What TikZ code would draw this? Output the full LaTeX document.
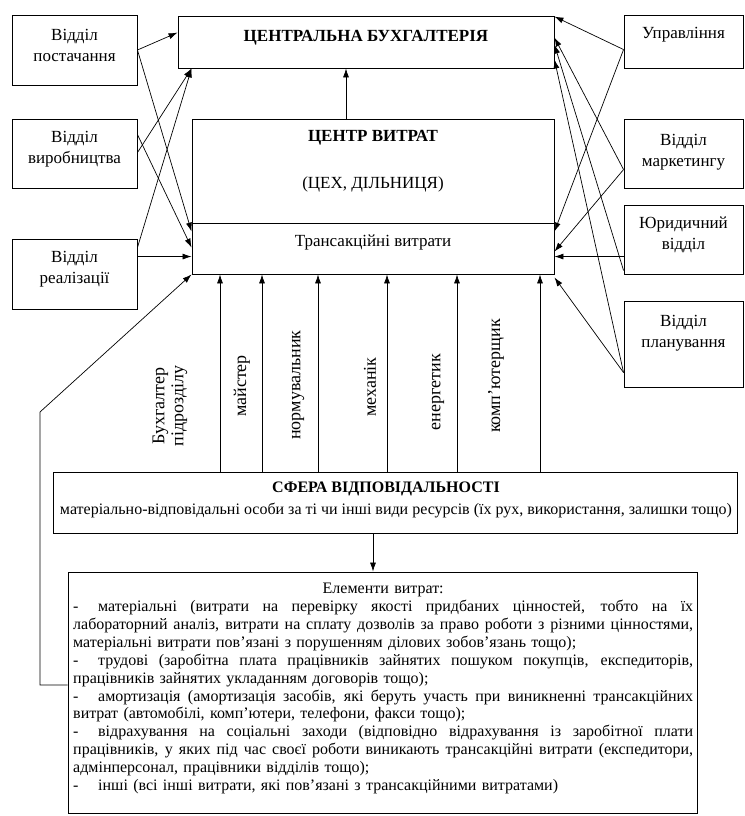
\documentclass[tikz,border=0pt]{standalone}
\usepackage{fontspec}
\setmainfont{Liberation Serif}
\usetikzlibrary{arrows.meta,calc}
\newcommand\Jl[1]{{\spaceskip=4pt plus 1fil minus 1pt\xspaceskip=4pt plus 1fil minus 1pt\makebox[620pt][s]{#1}}}
\newcommand\Dsh{\makebox[25pt][l]{-}}
\begin{document}
\begin{tikzpicture}[x=1pt,y=-1pt,
  box/.style={draw, line width=0.9pt, inner sep=0},
  arr/.style={-{Latex[length=9pt,width=6pt]}, line width=0.7pt},
  ln/.style={line width=0.7pt},
  txt/.style={inner sep=0, font=\fontsize{17}{21}\selectfont, align=center},
  hdr/.style={inner sep=0, font=\fontsize{17}{21}\selectfont\bfseries, align=center},
  vlab/.style={inner sep=0, rotate=90, font=\fontsize{18}{19}\selectfont, align=center}]
\useasboundingbox (0,0) rectangle (744,816);
% left boxes
\node[box, minimum width=125, minimum height=70] (post) at (74.5,50) {};
\node[txt] (postT) at (74.5,45) {Відділ\\постачання};
\node[box, minimum width=125, minimum height=69] (vyrob) at (74.5,153.5) {};
\node[txt] (vyrobT) at (74.5,149) {Відділ\\виробництва};
\node[box, minimum width=125, minimum height=70] (real) at (74.5,274) {};
\node[txt] (realT) at (74.5,269) {Відділ\\реалізації};
% central
\node[box, minimum width=376, minimum height=52] (cb) at (366,42) {};
\node[hdr] (cbT) at (366,38) {ЦЕНТРАЛЬНА БУХГАЛТЕРІЯ};
\node[box, minimum width=362, minimum height=104] (cv) at (373,171) {};
\node[hdr] (cvT1) at (373,138) {ЦЕНТР ВИТРАТ};
\node[txt] (cvT2) at (373,184) {(ЦЕХ, ДІЛЬНИЦЯ)};
\node[box, minimum width=362, minimum height=51] (trans) at (373,248.5) {};
\node[txt] (transT) at (373,242) {Трансакційні витрати};
% right boxes
\node[box, minimum width=119, minimum height=53] (upr) at (683.5,41.5) {};
\node[txt] (uprT) at (683.5,35) {Управління};
\node[box, minimum width=119, minimum height=69] (mark) at (683.5,153.5) {};
\node[txt] (markT) at (683.5,152) {Відділ\\маркетингу};
\node[box, minimum width=119, minimum height=69] (yur) at (683.5,239.5) {};
\node[txt] (yurT) at (683.5,235) {Юридичний\\відділ};
\node[box, minimum width=119, minimum height=86] (plan) at (683.5,344) {};
\node[txt] (planT) at (683.5,333) {Відділ\\планування};
% sfera
\node[box, minimum width=684, minimum height=61] (sfera) at (395,502.5) {};
\node[inner sep=0, font=\fontsize{16}{18}\selectfont\bfseries] (sferaT1) at (386,489) {СФЕРА ВІДПОВІДАЛЬНОСТІ};
\node[inner sep=0, font=\fontsize{16}{18}\selectfont] (sferaT2) at (396,510) {матеріально-відповідальні особи за ті чи інші види ресурсів (їх рух, використання, залишки тощо)};
% elements
\node[box, minimum width=629, minimum height=241] (elem) at (382.5,692.5) {};
\node[anchor=north west, inner sep=0, text width=620pt, align=left, font=\fontsize{16}{17.9}\selectfont] (elemT) at (73,583) {%
\makebox[620pt]{Елементи витрат:}\\
\Jl{\Dsh матеріальні (витрати на перевірку якості придбаних цінностей, тобто на їх}\\
\Jl{лабораторний аналіз, витрати на сплату дозволів за право роботи з різними цінностями,}\\
матеріальні витрати пов’язані з порушенням ділових зобов’язань тощо);\\
\Jl{\Dsh трудові (заробітна плата працівників зайнятих пошуком покупців, експедиторів,}\\
працівників зайнятих укладанням договорів тощо);\\
\Jl{\Dsh амортизація (амортизація засобів, які беруть участь при виникненні трансакційних}\\
витрат (автомобілі, комп’ютери, телефони, факси тощо);\\
\Jl{\Dsh відрахування на соціальні заходи (відповідно відрахування із заробітної плати}\\
\Jl{працівників, у яких під час своєї роботи виникають трансакційні витрати (експедитори,}\\
адмінперсонал, працівники відділів тощо);\\
\Dsh інші (всі інші витрати, які пов’язані з трансакційними витратами)};
% vertical labels
\node[vlab] (l1) at (170,406) {Бухгалтер\\підрозділу};
\node[vlab] (l2) at (242,386) {майстер};
\node[vlab] (l3) at (298,385) {нормувальник};
\node[vlab] (l4) at (370,387) {механік};
\node[vlab] (l5) at (438,392) {енергетик};
\node[vlab] (l6) at (496,376) {комп’ютерщик};
% vertical arrows
\coordinate (v1) at (220,0);
\coordinate (v2) at (262,0);
\coordinate (v3) at (318,0);
\coordinate (v4) at (387,0);
\coordinate (v5) at (457,0);
\coordinate (v6) at (540,0);
\foreach \v in {v1,v2,v3,v4,v5,v6} \draw[arr] (sfera.north -| \v) -- (trans.south -| \v);
\coordinate (vc) at (346,0);
\draw[arr] (cv.north -| vc) -- (cb.south -| vc);
\coordinate (ve) at (373,0);
\draw[arr] (sfera.south -| ve) -- (elem.north -| ve);
% left connectors
\draw[arr] (post.east) -- ($(cb.north west)+(0,17)$);
\draw[arr] (post.east) -- ($(trans.north west)+(0,9)$);
\draw[arr] ($(vyrob.north east)+(0,16)$) -- ($(trans.north west)+(0,25)$);
\draw[arr] ($(vyrob.north east)+(0,34)$) -- ($(cb.south west)+(14,0)$);
\draw[arr] ($(real.north east)+(0,9)$) -- ($(cb.south west)+(14,0)$);
\draw[arr] ($(real.north east)+(0,18)$) -- ($(trans.north west)+(0,34)$);
\coordinate (k1) at (40,685);
\coordinate (k2) at (40,412);
\draw[arr] (elem.west |- k1) -- (k1) -- (k2) -- (trans.south west);
% right connectors
\draw[arr] ($(upr.north west)+(0,35)$) -- ($(cb.north east)+(0,1)$);
\draw[arr] ($(upr.north west)+(0,35)$) -- ($(trans.north east)+(0,9)$);
\draw[arr] ($(mark.north west)+(0,51)$) -- ($(cb.north east)+(0,22)$);
\draw[arr] ($(mark.north west)+(0,51)$) -- ($(trans.north east)+(0,29)$);
\draw[arr] ($(yur.north west)+(0,52)$) -- ($(trans.north east)+(0,34)$);
\draw[arr] ($(yur.south west)+(0,-4)$) -- ($(cb.north east)+(0,29)$);
\draw[arr] ($(plan.north west)+(0,72)$) -- ($(cb.north east)+(0,44)$);
\draw[arr] ($(plan.north west)+(0,72)$) -- ($(trans.south east)+(0,3)$);
\end{tikzpicture}
\end{document}
